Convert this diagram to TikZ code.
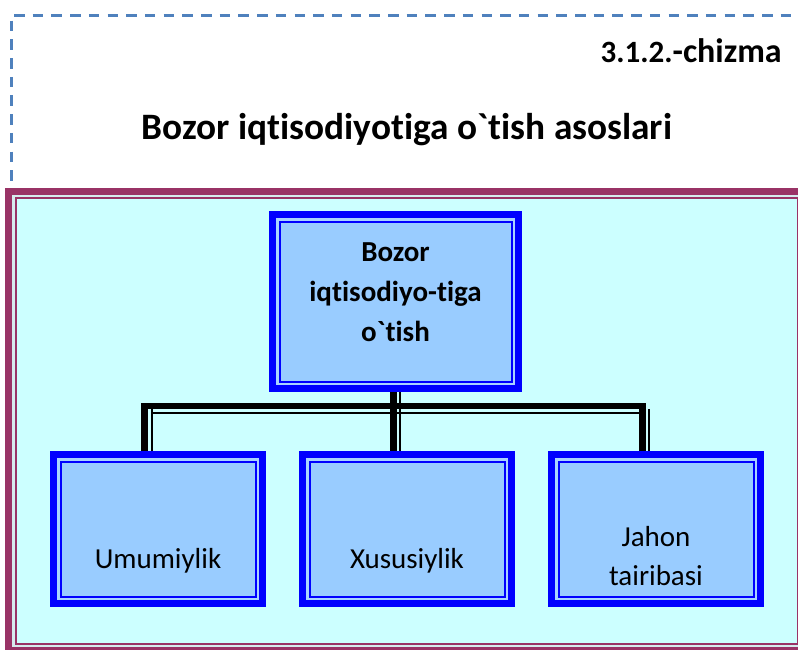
\documentclass[tikz,border=0pt]{standalone}
\usepackage{fontspec}
\newfontfamily\calfnt{Carlito}[Ligatures={NoCommon}]
\usetikzlibrary{calc}
\definecolor{dashblue}{HTML}{4F81BD}
\definecolor{maroonc}{HTML}{993366}
\definecolor{cyanbg}{HTML}{CCFFFF}
\definecolor{boxfill}{HTML}{99CCFF}
\definecolor{boxgap}{HTML}{A9D3FF}
\definecolor{gapcol}{HTML}{D6EBEE}
\begin{document}
\begin{tikzpicture}[x=1pt,y=-1pt,
  bx/.style={draw=blue, line width=7pt, fill=boxfill, inner sep=0pt, outer sep=0pt},
  innerframe/.style={draw=blue, line width=2pt},
  gapframe/.style={draw=boxgap, line width=2.5pt},
  dashln/.style={dashblue, line width=2.6pt, dash pattern=on 10.5pt off 8.2pt},
  txt/.style={inner sep=0pt, font=\calfnt\fontsize{29}{39}\selectfont, align=center},
  btxt/.style={inner sep=0pt, font=\calfnt\bfseries\fontsize{29}{40}\selectfont, align=center},
  thickconn/.style={draw=black, line width=6.5pt},
  thinconn/.style={draw=black, line width=2pt}]
\useasboundingbox (0,0) rectangle (798,650);
\clip (0,0) rectangle (798,650);
% dashed header frame
\draw[dashln] (14,15.3) -- (800,15.3);
\draw[dashln] (11.2,20.7) -- (11.2,185);
% maroon frame
\draw[maroonc, line width=7pt, fill=gapcol] (8.7,191) rectangle (804.3,650.6);
\draw[maroonc, line width=2pt, fill=cyanbg] (15.5,197.5) rectangle (797.5,644.3);
% titles
\node[inner sep=0pt, anchor=base, font=\calfnt\bfseries\fontsize{37.3}{44}\selectfont] (title) at (407,140) {Bozor iqtisodiyotiga o`tish asoslari};
\node[inner sep=0pt, anchor=base east, font=\calfnt\bfseries] (chz) at (782,63) {{\fontsize{31}{36}\selectfont 3.1.2.}{\fontsize{34}{40}\selectfont -chizma}};
% boxes
\node[bx, minimum width=246pt, minimum height=174pt] (top) at (395.5,301.5) {};
\node[bx, minimum width=209pt, minimum height=149pt] (b1) at (158,529) {};
\node[bx, minimum width=209pt, minimum height=149pt] (b2) at (407,529) {};
\node[bx, minimum width=209pt, minimum height=149pt] (b3) at (656,529) {};
\foreach \n in {top,b1,b2,b3}{
  \draw[gapframe] ($(\n.north west)+(4.8,4.8)$) rectangle ($(\n.south east)+(-4.8,-4.8)$);
  \draw[innerframe] ($(\n.north west)+(7,7)$) rectangle ($(\n.south east)+(-7,-7)$);
}
% texts
\node[btxt] (ttop) at ($(top.center)+(0,-8.8)$) {Bozor\\iqtisodiyo-tiga\\o`tish};
\node[txt, anchor=base] (t1) at ($(b1.center)+(0,39)$) {Umumiylik};
\node[txt, anchor=base] (t2) at ($(b2.center)+(0,39)$) {Xususiylik};
\node[txt] (t3) at ($(b3.center)+(0,27)$) {Jahon\\tairibasi};
% connectors
\draw[thickconn] ($(b1.north)+(-13.5,-3.5)$) |- ($(b3.north)+(-13.5,-48.5)$) -- ($(b3.north)+(-13.5,-3.5)$);
\draw[thickconn] ($(top.south)+(-2,3.5)$) -- ($(b2.north)+(-13.5,-3.5)$);
\draw[thinconn] ($(b1.north)+(-6,-3.5)$) -- ($(b1.north)+(-6,-51.5)$);
\draw[thinconn] ($(b1.north)+(-7,-41.5)$) -- ($(b3.north)+(-16,-41.5)$);
\draw[thinconn] ($(top.south)+(4.5,3.5)$) -- ($(b2.north)+(-7,-3.5)$);
\draw[thinconn] ($(b3.north)+(-7.5,-3.5)$) -- ($(b3.north)+(-7.5,-45.5)$);
\end{tikzpicture}
\end{document}
